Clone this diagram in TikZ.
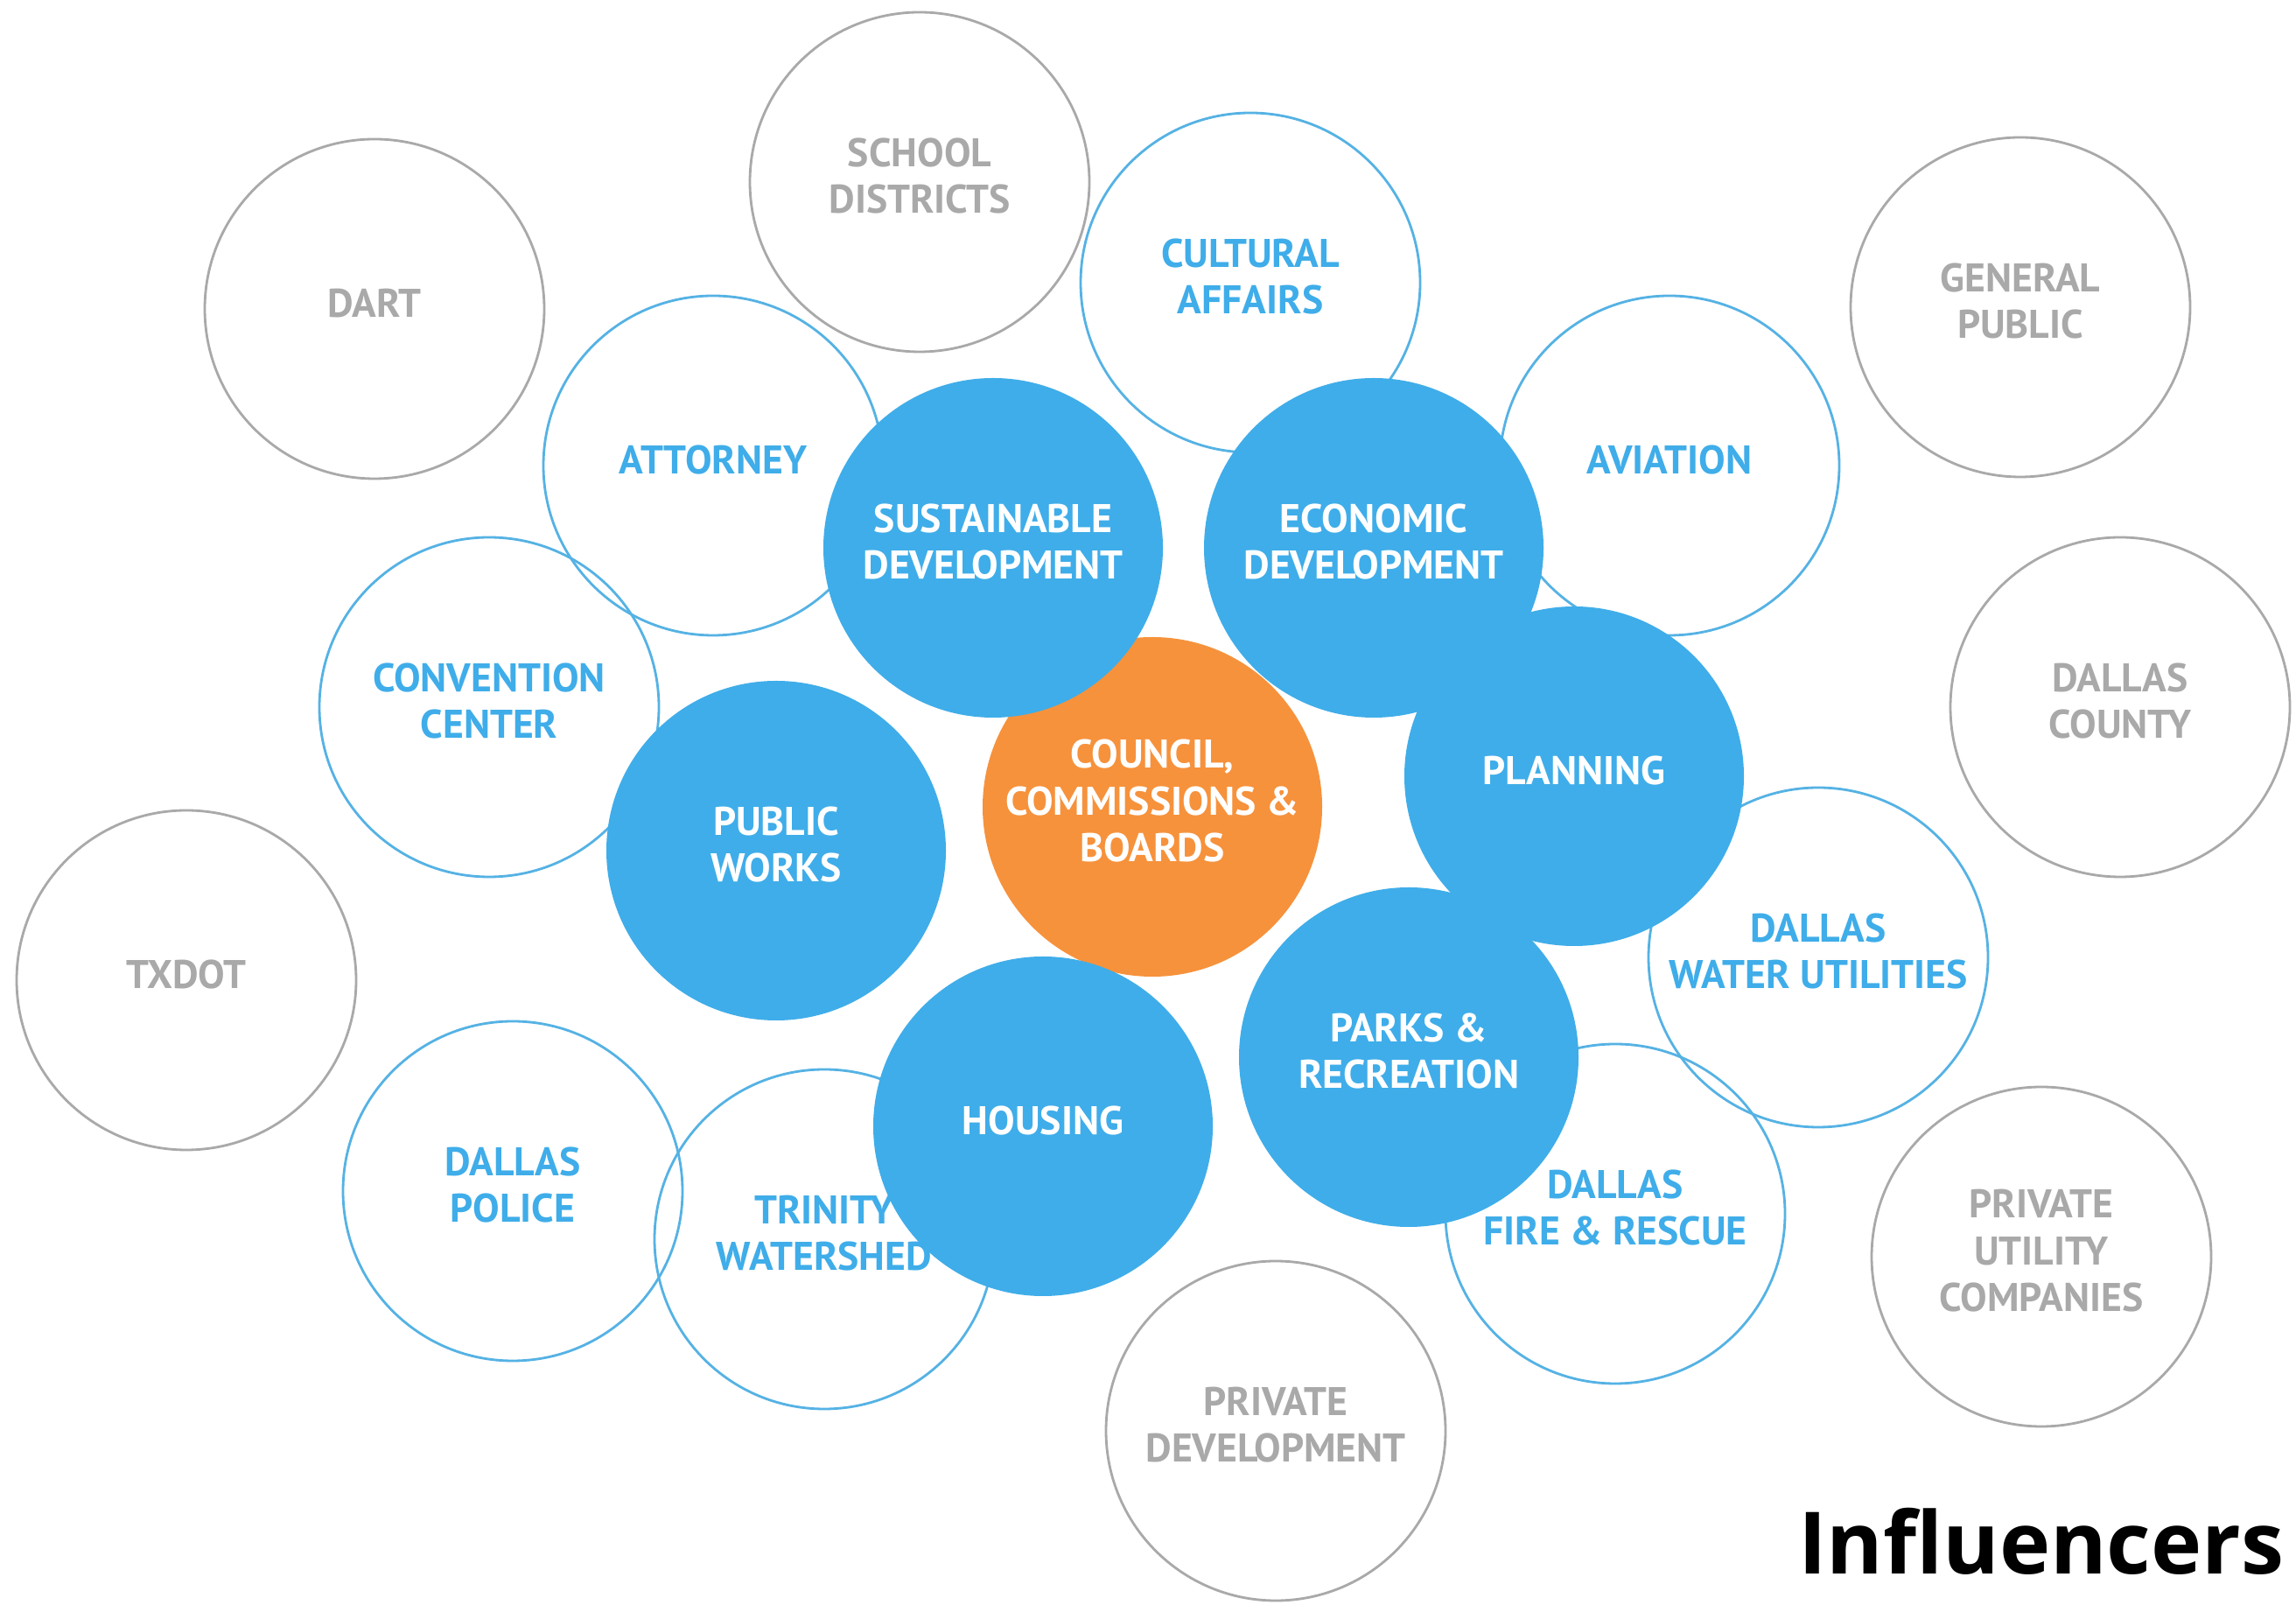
\documentclass[tikz,border=0pt]{standalone}
\usepackage{fontspec}
\setmainfont{PT Sans}
\newfontfamily\titlefont{Open Sans}
\usetikzlibrary{positioning}

\definecolor{bubbleblue}{HTML}{3FADE9}
\definecolor{lineblue}{HTML}{55B2E4}
\definecolor{councilorange}{HTML}{F6923C}
\definecolor{outgray}{HTML}{A9A9A9}

\begin{document}
\begin{tikzpicture}[
        bubble/.style={circle,minimum size=3.88cm,inner sep=0pt,align=center,text depth=4pt,
            font=\fontsize{13}{15.2}\selectfont\bfseries},
        outer/.style={bubble,draw=outgray,line width=0.8pt,text=outgray},
        dept/.style={bubble,draw=lineblue,line width=0.8pt,text=bubbleblue},
        core/.style={bubble,fill=bubbleblue,text=white},
        council/.style={bubble,fill=councilorange,text=white}
    ]
        \fill[white] (0,0) rectangle (26.24,18.33);
        \useasboundingbox (0,0) rectangle (26.24,18.33);

        % outside the city
        \node[outer] (dart)    at (4.28,14.80)  {DART};
        \node[outer] (school)  at (10.51,16.25) {SCHOOL\\DISTRICTS};
        \node[outer] (public)  at (23.09,14.82) {GENERAL\\PUBLIC};
        \node[outer] (county)  at (24.23,10.25) {DALLAS\\COUNTY};
        \node[outer] (txdot)   at (2.13,7.13)   {TXDOT};
        \node[outer] (utility) at (23.33,3.97)  {PRIVATE\\UTILITY\\COMPANIES};
        \node[outer] (private) at (14.58,1.98)  {PRIVATE\\DEVELOPMENT};

        % city departments
        \node[dept] (cultural)   at (14.29,15.10) {CULTURAL\\AFFAIRS};
        \node[dept] (attorney)   at (8.15,13.01)  {ATTORNEY};
        \node[dept] (aviation)   at (19.08,13.01) {AVIATION};
        \node[dept] (convention) at (5.59,10.25)  {CONVENTION\\CENTER};
        \node[dept] (water)      at (20.78,7.39)  {DALLAS\\WATER UTILITIES};
        \node[dept] (police)     at (5.86,4.72)   {DALLAS\\POLICE};
        \node[dept] (trinity)    at (9.42,4.17)   {TRINITY\\WATERSHED};
        \node[dept] (fire)       at (18.46,4.46)  {DALLAS\\FIRE \& RESCUE};

        % centre
        \node[council] (ccb) at (13.17,9.11) {COUNCIL,\\COMMISSIONS \&\\BOARDS};
        \node[core] (sustainable) at (11.35,12.07) {SUSTAINABLE\\DEVELOPMENT};
        \node[core] (economic)    at (15.70,12.07) {ECONOMIC\\DEVELOPMENT};
        \node[core] (works)       at (8.87,8.61)   {PUBLIC\\WORKS};
        \node[core] (planning)    at (17.99,9.46)  {PLANNING};
        \node[core] (housing)     at (11.92,5.46)  {HOUSING};
        \node[core] (parks)       at (16.10,6.25)  {PARKS \&\\RECREATION};

        \node[anchor=base east,inner sep=0pt,font=\titlefont\fontsize{28}{34}\selectfont\bfseries] (title)
            at (26.11,0.34) {Influencers};
    \end{tikzpicture}
\end{document}
